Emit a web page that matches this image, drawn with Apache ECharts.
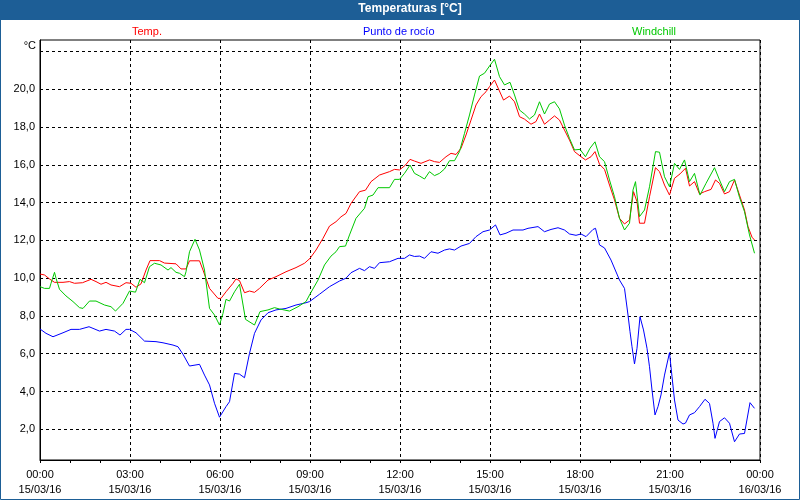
<!DOCTYPE html>
<html><head><meta charset="utf-8">
<script src="https://cdn.jsdelivr.net/npm/echarts@6/dist/echarts.min.js"></script>
<style>html,body{margin:0;padding:0;background:#fff}#c{width:800px;height:500px}</style>
</head><body><div id="c"></div>
<script>
const titleText = 'Temperaturas [°C]';
const seriesNames = ['Temp.', 'Punto de rocío', 'Windchill'];
const yUnit = '°C';
const xTickLabels = ['00:00\n15/03/16','03:00\n15/03/16','06:00\n15/03/16','09:00\n15/03/16','12:00\n15/03/16','15:00\n15/03/16','18:00\n15/03/16','21:00\n15/03/16','00:00\n16/03/16'];
const yLabelValues = [2,4,6,8,10,12,14,16,18,20];
const yGridValues = [2,4,6,8,10,12,14,16,18,20,22];

// minutes since 15/03/16 00:00
const tempMin = [0,9,19,29,46,59,69,85,102,112,122,132,142,159,172,182,192,202,212,220,239,249,272,282,292,299,319,326,339,356,362,372,386,392,399,409,419,429,439,456,472,492,512,529,540,552,566,579,592,602,612,622,639,651,662,679,699,709,719,731,740,749,762,779,789,799,812,822,832,842,852,862,872,882,892,899,909,918,927,939,949,959,969,982,992,999,1009,1019,1029,1039,1049,1059,1069,1080,1091,1102,1110,1119,1129,1139,1149,1159,1169,1179,1187,1194,1199,1209,1219,1231,1239,1249,1259,1269,1280,1291,1299,1309,1319,1329,1342,1351,1359,1369,1379,1389,1399,1409,1416,1424,1429];
const tempVal = [10.22,10.17,9.96,9.78,9.78,9.82,9.73,9.76,9.94,9.82,9.68,9.78,9.64,9.55,9.76,9.73,9.52,9.70,10.43,10.93,10.93,10.80,10.76,10.49,10.49,10.92,10.92,10.43,9.46,8.93,8.93,9.28,9.73,9.96,9.87,9.23,9.32,9.25,9.46,9.90,10.08,10.34,10.56,10.79,11.05,11.49,12.11,12.76,12.99,13.25,13.43,13.96,14.58,14.66,15.11,15.46,15.64,15.76,15.73,15.99,16.29,16.20,16.08,16.26,16.17,16.13,16.43,16.61,16.55,16.88,17.58,18.37,19.17,19.61,19.87,20.14,20.49,19.96,19.43,19.64,19.34,18.55,18.42,18.15,18.29,18.69,18.15,18.37,18.59,18.37,17.84,17.31,16.70,16.47,16.26,16.43,16.70,16.03,15.76,14.93,14.14,13.17,12.87,13.08,14.58,14.05,12.91,12.91,14.31,15.85,15.64,14.93,14.40,15.29,15.52,15.82,14.88,15.11,14.46,14.58,14.70,15.20,15.02,14.46,14.58,15.20,14.40,13.61,12.73,12.17,12.02];

const dewMin = [0,12,26,46,62,79,98,119,132,149,160,172,179,192,209,232,246,266,276,286,299,319,329,339,349,359,372,379,389,399,409,419,429,442,456,472,492,512,532,539,559,579,599,612,622,639,649,659,669,679,699,716,729,739,749,759,769,782,796,809,819,829,842,859,872,886,899,911,920,932,946,966,976,996,1000,1009,1022,1036,1049,1059,1072,1082,1092,1106,1111,1116,1119,1129,1142,1159,1169,1176,1180,1184,1189,1194,1200,1207,1214,1219,1224,1230,1236,1242,1249,1259,1264,1269,1276,1286,1291,1299,1309,1319,1330,1339,1346,1350,1359,1369,1379,1389,1399,1409,1420,1429];
const dewVal = [7.31,7.08,6.90,7.11,7.29,7.29,7.43,7.20,7.29,7.20,6.99,7.29,7.29,7.11,6.67,6.64,6.58,6.46,6.37,5.97,5.35,5.44,4.87,4.35,3.38,2.64,3.20,3.46,4.96,4.92,4.73,6.02,7.08,7.79,8.17,8.32,8.40,8.58,8.70,8.76,9.15,9.55,9.85,10.0,10.29,10.52,10.40,10.61,10.52,10.82,10.87,11.05,11.05,11.23,11.15,11.17,11.05,11.40,11.32,11.49,11.55,11.49,11.70,11.84,12.20,12.46,12.55,12.82,12.29,12.38,12.55,12.55,12.64,12.73,12.76,12.46,12.58,12.67,12.55,12.34,12.27,12.34,12.20,12.58,12.64,12.11,11.76,11.60,10.96,9.90,9.46,8.05,7.17,6.37,5.46,6.29,7.96,7.26,6.29,5.31,4.08,2.76,3.20,3.82,4.87,6.06,4.79,3.55,2.49,2.28,2.33,2.76,2.88,3.20,3.59,3.37,2.32,1.52,2.41,2.61,2.32,1.34,1.75,1.78,3.41,3.11];

const windMin = [0,9,19,22,29,32,39,52,66,79,86,99,112,129,142,151,166,179,191,200,209,219,229,242,256,262,272,279,289,292,299,310,319,329,339,349,359,366,372,379,389,399,411,429,440,456,469,479,499,516,532,539,556,569,582,592,599,611,619,632,649,656,666,676,699,709,719,729,740,749,759,769,779,789,799,809,819,829,839,849,859,869,879,889,899,909,919,929,940,949,959,969,979,989,999,1009,1019,1029,1039,1049,1059,1069,1080,1091,1100,1110,1119,1129,1139,1149,1159,1169,1179,1186,1191,1199,1209,1219,1231,1239,1249,1259,1269,1279,1289,1299,1309,1320,1332,1349,1359,1369,1379,1389,1399,1409,1419,1429];
const windVal = [9.55,9.46,9.46,9.73,10.31,10.0,9.41,9.06,8.76,8.44,8.40,8.79,8.79,8.58,8.49,8.26,8.67,9.32,9.26,9.94,9.76,10.61,10.79,10.70,10.43,10.56,10.31,10.26,10.08,10.34,11.40,12.06,11.49,10.43,8.40,8.05,7.52,8.14,8.88,8.79,9.28,9.68,7.82,7.52,8.23,8.32,8.44,8.37,8.26,8.49,8.76,9.11,9.90,10.70,11.17,11.40,11.67,11.70,12.29,13.17,13.70,14.31,14.40,14.79,14.79,15.23,15.23,15.55,15.99,15.55,15.41,15.25,15.64,15.43,15.55,15.78,16.22,16.22,16.70,17.67,18.64,19.70,20.70,20.85,21.23,21.59,20.67,20.23,20.37,19.70,18.90,18.69,18.43,18.64,19.34,18.69,19.22,19.34,18.96,18.10,17.40,16.79,16.82,16.43,16.88,17.22,16.43,16.17,15.20,14.31,13.17,12.55,12.91,14.67,15.11,13.26,13.61,14.84,16.70,16.67,15.37,14.84,16.08,15.76,16.26,15.11,15.55,14.40,15.02,15.85,15.20,14.58,15.11,15.23,14.28,13.52,12.29,11.32];

const colors = ['#ff0000', '#0000ff', '#00c800'];
const FONT = '"Liberation Sans", Arial, sans-serif';
const pair = (xs, ys) => xs.map((x, i) => [x, ys[i]]);

const chart = echarts.init(document.getElementById('c'), null, {renderer: 'canvas'});
const legendLeft = [127, 358, 627];
chart.setOption({
  animation: false,
  backgroundColor: '#ffffff',
  title: {
    text: titleText, left: 410, top: 3, textAlign: 'center', padding: 0,
    textStyle: {color: '#ffffff', fontSize: 12, fontWeight: 'bold', fontFamily: FONT}
  },
  graphic: [
    {type: 'rect', z: 0, shape: {x: 0, y: 0, width: 800, height: 20}, style: {fill: '#1d5e96'}},
    {type: 'rect', z: 0, shape: {x: 0.5, y: 0.5, width: 799, height: 499}, style: {fill: null, stroke: '#1d5e96', lineWidth: 1}}
  ],
  legend: seriesNames.map((n, i) => ({
    data: [{name: n, textStyle: {color: colors[i]}}],
    left: legendLeft[i], top: 25, padding: 0, icon: 'none', itemWidth: 0, itemHeight: 14,
    selectedMode: false,
    textStyle: {fontSize: 11, fontFamily: FONT}
  })),
  grid: {left: 40, top: 40, width: 720, height: 420, show: true, borderColor: '#000', borderWidth: 1, backgroundColor: '#fff'},
  xAxis: {
    type: 'value', min: 0, max: 1440, interval: 180,
    axisLine: {show: true, lineStyle: {color: '#000'}},
    axisTick: {show: true, length: 3, lineStyle: {color: '#000'}},
    minorTick: {show: true, splitNumber: 3, length: 3, lineStyle: {color: '#000'}},
    axisLabel: {
      formatter: v => xTickLabels[Math.round(v / 180)],
      color: '#000', fontSize: 11, lineHeight: 15, margin: 7, fontFamily: FONT,
      showMinLabel: true, showMaxLabel: true, hideOverlap: false
    },
    splitLine: {show: true, lineStyle: {color: '#000', type: [3, 3]}}
  },
  yAxis: {
    type: 'value', min: 0.375, max: 22.609,
    name: yUnit, nameLocation: 'end', nameGap: -6,
    nameTextStyle: {color: '#000', fontSize: 11, fontFamily: FONT, align: 'right', verticalAlign: 'middle', padding: [0, 4, 0, 0]},
    axisLine: {show: true, lineStyle: {color: '#000'}},
    axisTick: {show: false, customValues: yGridValues},
    axisLabel: {customValues: yLabelValues, formatter: v => v.toFixed(1).replace('.', ','), color: '#000', fontSize: 11, margin: 5, fontFamily: FONT},
    splitLine: {show: true, lineStyle: {color: '#000', type: [3, 3]}}
  },
  series: [
    {name: seriesNames[0], type: 'line', data: pair(tempMin, tempVal), color: colors[0]},
    {name: seriesNames[1], type: 'line', data: pair(dewMin, dewVal), color: colors[1]},
    {name: seriesNames[2], type: 'line', data: pair(windMin, windVal), color: colors[2]}
  ].map(s => Object.assign(s, {showSymbol: false, symbol: 'none', lineStyle: {width: 1, color: s.color}, emphasis: {disabled: true}}))
});
</script></body></html>
